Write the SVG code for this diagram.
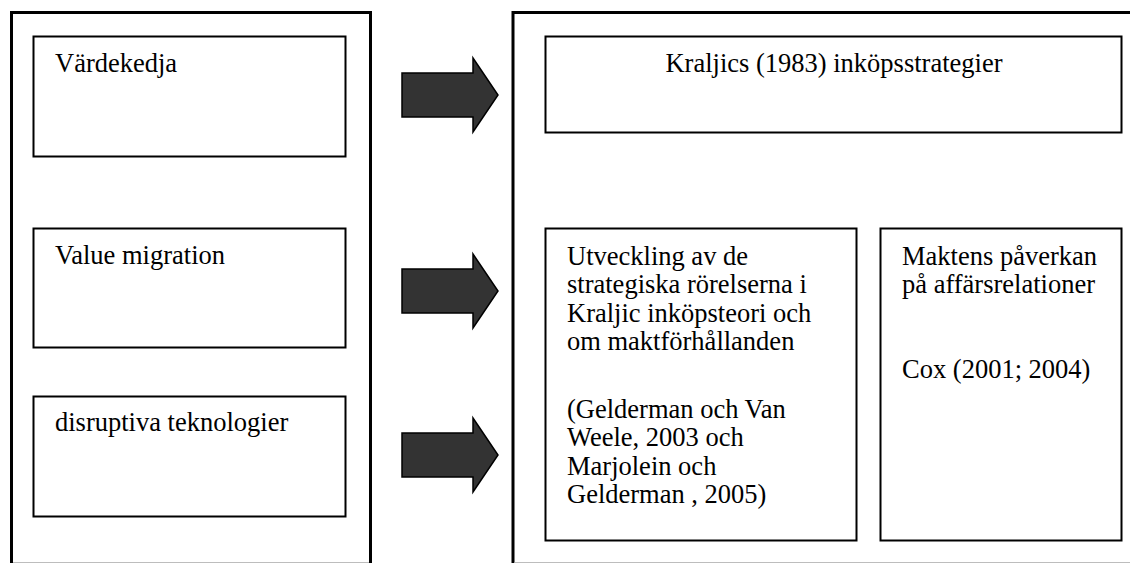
<svg xmlns="http://www.w3.org/2000/svg" width="1130" height="563" viewBox="0 0 1130 563">
  <style>
    .frame { fill: none; stroke: #000; stroke-width: 3; }
    .box { fill: #fff; stroke: #000; stroke-width: 2; }
    .arrow { fill: #333; stroke: #000; stroke-width: 1.5; stroke-linejoin: miter; }
    text { font-family: "Liberation Serif", "Times New Roman", serif; font-size: 26.5px; fill: #000; }
    .edge { stroke: #bdbdbd; stroke-width: 1; }
  </style>
  <defs>
    <!-- block arrow pointing right, origin at the centre line of the body's left end -->
    <path id="blockArrow" d="M0,-22 H71 V-37 L96,0 L71,37 V22 H0 Z"/>
  </defs>
  <rect width="1130" height="563" fill="#fff"/>

  <!-- left column frame -->
  <g id="left-frame">
    <path class="frame" d="M11.5,566 V12.5 H370.5 V566"/>
    <line class="edge" x1="13" y1="562.5" x2="369" y2="562.5"/>
  </g>

  <!-- right column frame -->
  <g id="right-frame">
    <path class="frame" d="M513,566 V12.5 H1132"/>
    <line class="edge" x1="514.5" y1="562.5" x2="1130" y2="562.5"/>
  </g>

  <g id="vardekedja">
    <rect class="box" x="33.5" y="36.5" width="312" height="120"/>
    <text x="55" y="72">Värdekedja</text>
  </g>

  <g id="value-migration">
    <rect class="box" x="33.5" y="228.5" width="312" height="119"/>
    <text x="55" y="264">Value migration</text>
  </g>

  <g id="disruptiva">
    <rect class="box" x="33.5" y="396.5" width="312" height="120"/>
    <text x="55" y="431">disruptiva teknologier</text>
  </g>

  <g id="kraljic">
    <rect class="box" x="545.5" y="36.5" width="576" height="96"/>
    <text x="834" y="72" text-anchor="middle">Kraljics (1983) inköpsstrategier</text>
  </g>

  <g id="utveckling">
    <rect class="box" x="545.5" y="228.5" width="311" height="312"/>
    <text x="567">
      <tspan x="567" y="265">Utveckling av de</tspan>
      <tspan x="567" y="293">strategiska rörelserna i</tspan>
      <tspan x="567" y="322">Kraljic inköpsteori och</tspan>
      <tspan x="567" y="350">om maktförhållanden</tspan>
      <tspan x="567" y="418">(Gelderman och Van</tspan>
      <tspan x="567" y="446">Weele, 2003 och</tspan>
      <tspan x="567" y="475">Marjolein och</tspan>
      <tspan x="567" y="503">Gelderman , 2005)</tspan>
    </text>
  </g>

  <g id="maktens">
    <rect class="box" x="880.5" y="228.5" width="241" height="312"/>
    <text x="902">
      <tspan x="902" y="265">Maktens påverkan</tspan>
      <tspan x="902" y="293">på affärsrelationer</tspan>
      <tspan x="902" y="378">Cox (2001; 2004)</tspan>
    </text>
  </g>

  <!-- connectors: block arrows from the left column into the right column -->
  <g id="connectors">
    <use href="#blockArrow" class="arrow" x="402" y="95"/>
    <use href="#blockArrow" class="arrow" x="402" y="291"/>
    <use href="#blockArrow" class="arrow" x="402" y="455"/>
  </g>
</svg>
